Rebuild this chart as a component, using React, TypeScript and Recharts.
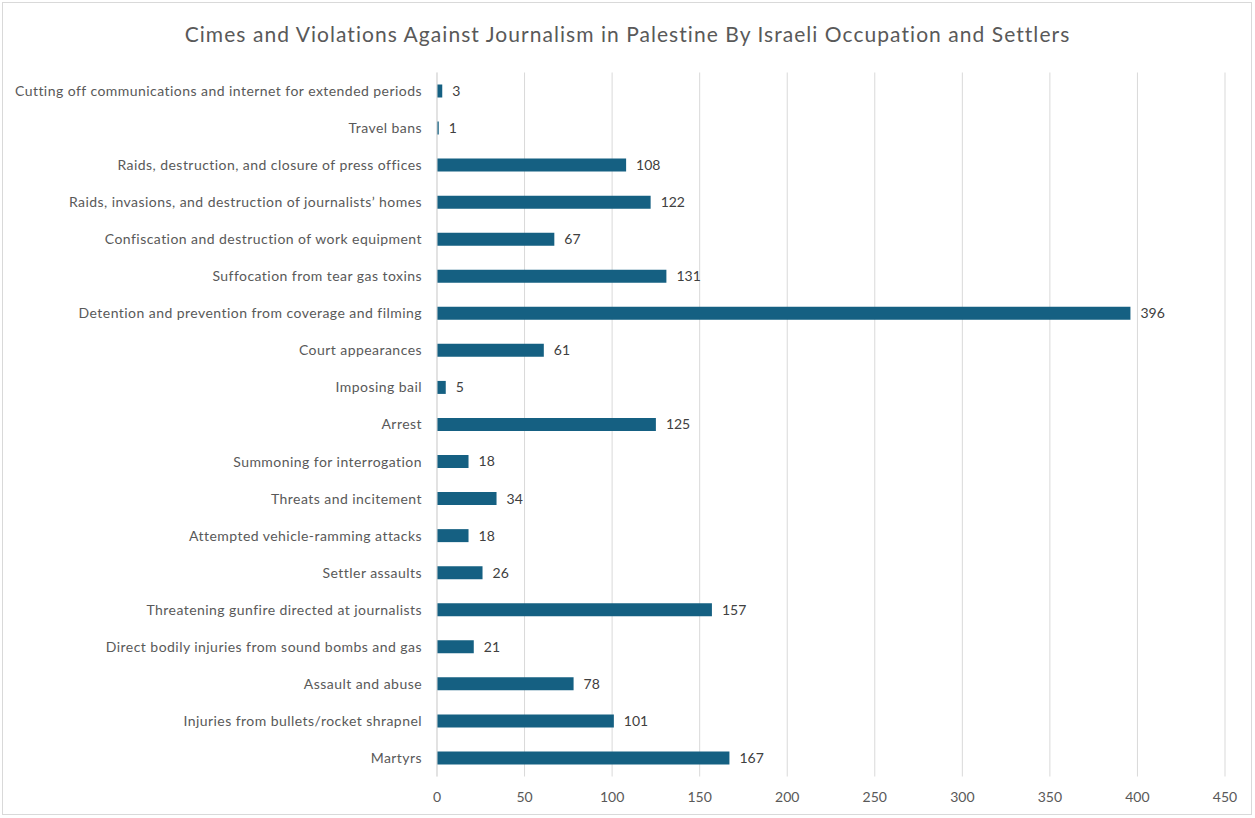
import { BarChart, Bar, XAxis, YAxis, CartesianGrid, LabelList } from 'recharts';

const categories = [
  'Cutting off communications and internet for extended periods',
  'Travel bans',
  'Raids, destruction, and closure of press offices',
  'Raids, invasions, and destruction of journalists’ homes',
  'Confiscation and destruction of work equipment',
  'Suffocation from tear gas toxins',
  'Detention and prevention from coverage and filming',
  'Court appearances',
  'Imposing bail',
  'Arrest',
  'Summoning for interrogation',
  'Threats and incitement',
  'Attempted vehicle-ramming attacks',
  'Settler assaults',
  'Threatening gunfire directed at journalists',
  'Direct bodily injuries from sound bombs and gas',
  'Assault and abuse',
  'Injuries from bullets/rocket shrapnel',
  'Martyrs',
];

const counts = [3, 1, 108, 122, 67, 131, 396, 61, 5, 125, 18, 34, 18, 26, 157, 21, 78, 101, 167];

const xTicks = [0, 50, 100, 150, 200, 250, 300, 350, 400, 450];

const title =
  'Cimes and Violations Against Journalism in Palestine By Israeli Occupation and Settlers';

const data = categories.map((name, i) => ({ name, count: counts[i] }));

const FONT = 'Lato, "Open Sans", sans-serif';
const BAR = '#156082';

export default function App() {
  return (
    <div
      style={{
        position: 'absolute',
        left: 0,
        top: 0,
        width: 1255,
        height: 818,
        background: '#fff',
        fontFamily: FONT,
      }}
    >
      <div
        style={{
          position: 'absolute',
          left: 2,
          top: 2,
          width: 1250,
          height: 813,
          border: '1px solid #d9d9d9',
          boxSizing: 'border-box',
        }}
      />
      <div
        style={{
          position: 'absolute',
          left: 0,
          top: 21,
          width: 1255,
          textAlign: 'center',
          fontSize: 21,
          letterSpacing: 1.05,
          color: '#595959',
        }}
      >
        {title}
      </div>
      <BarChart
        width={1255}
        height={818}
        data={data}
        layout="vertical"
        margin={{ top: 72.5, right: 30, left: 0, bottom: 11.5 }}
        barCategoryGap={0}
        style={{ position: 'absolute', left: 0, top: 0 }}
      >
        <CartesianGrid vertical horizontal={false} stroke="#d9d9d9" />
        <XAxis
          type="number"
          domain={[0, 450]}
          ticks={xTicks}
          axisLine={false}
          tickLine={false}
          tickMargin={10}
          height={30}
          tick={{ fontSize: 14, fill: '#595959', fontFamily: FONT }}
        />
        <YAxis
          type="category"
          dataKey="name"
          width={437}
          interval={0}
          tickLine={false}
          tickMargin={9}
          axisLine={{ stroke: '#d9d9d9' }}
          tick={{ fontSize: 14, fill: '#595959', fontFamily: FONT, letterSpacing: 0.45 }}
        />
        <Bar dataKey="count" fill={BAR} barSize={13} isAnimationActive={false}>
          <LabelList
            dataKey="count"
            position="right"
            offset={10}
            style={{ fontSize: 14, fill: '#404040', fontFamily: FONT }}
          />
        </Bar>
      </BarChart>
    </div>
  );
}
